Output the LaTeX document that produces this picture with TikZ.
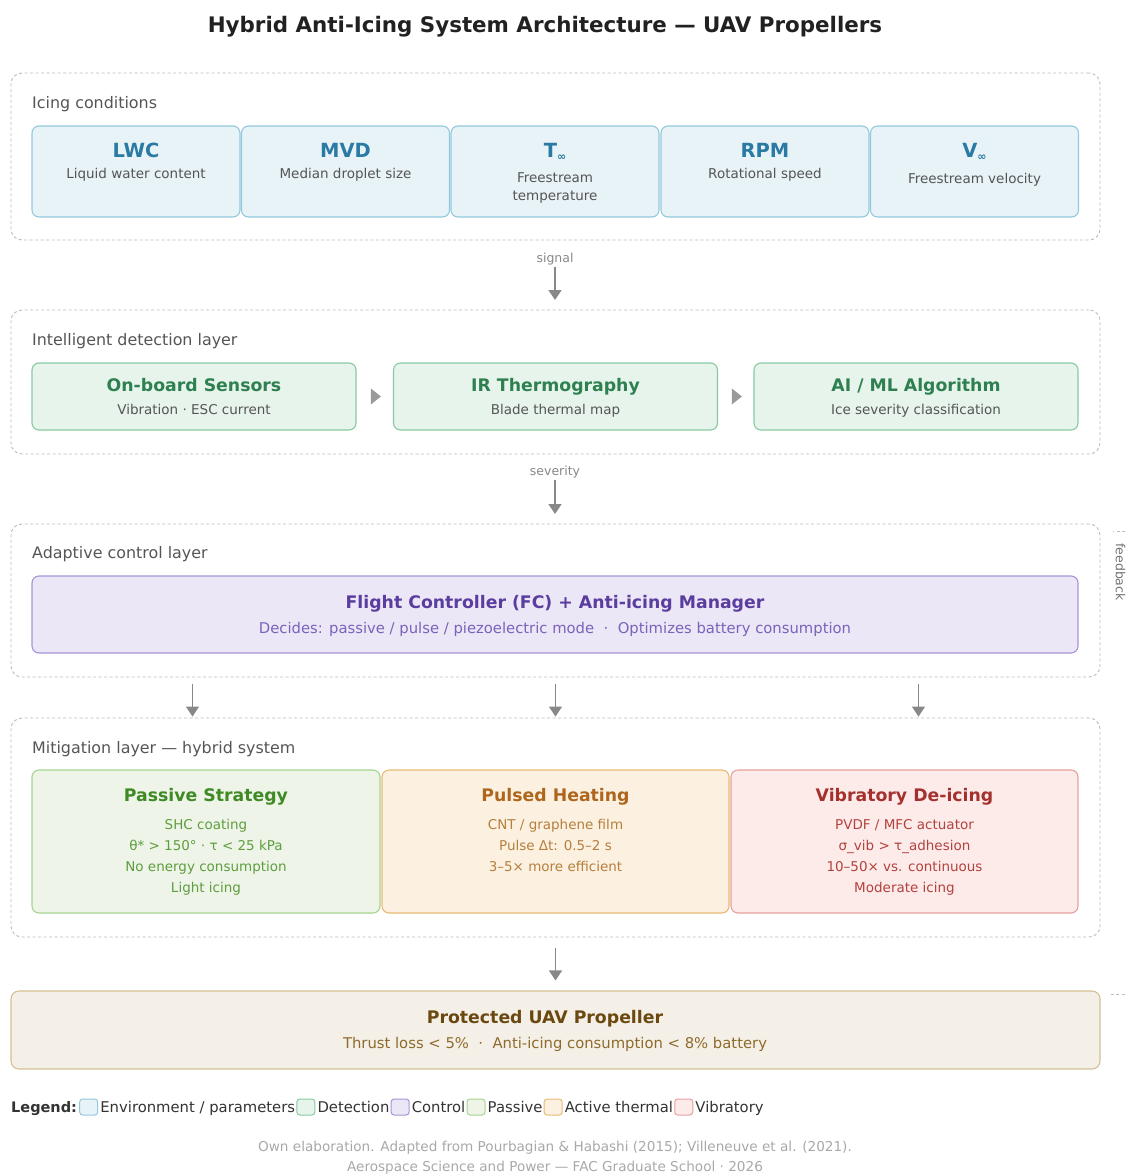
\documentclass[tikz,border=0pt]{standalone}
\usepackage{fontspec}
\setmainfont{DejaVu Sans}
\usepackage{xcolor}
\usetikzlibrary{arrows.meta,positioning,calc,shapes.geometric}

\definecolor{laygray}{HTML}{BBBBBB}
\definecolor{labgray}{HTML}{555555}
\definecolor{subgray}{HTML}{555555}
\definecolor{arrgray}{HTML}{888888}
\definecolor{footgray}{HTML}{A8A8A8}
\definecolor{legdark}{HTML}{333333}
\definecolor{envfill}{HTML}{E8F3F8}
\definecolor{envline}{HTML}{92C9DD}
\definecolor{envtxt}{HTML}{2A7AA3}
\definecolor{detfill}{HTML}{E7F4EC}
\definecolor{detline}{HTML}{86CBA0}
\definecolor{dettxt}{HTML}{2E8050}
\definecolor{ctlfill}{HTML}{ECE7F6}
\definecolor{ctlline}{HTML}{A893D6}
\definecolor{ctltxt}{HTML}{5A3D9E}
\definecolor{ctlsub}{HTML}{7B62BA}
\definecolor{pasfill}{HTML}{EEF4E8}
\definecolor{pasline}{HTML}{A6D48F}
\definecolor{pastxt}{HTML}{3F8A24}
\definecolor{passub}{HTML}{5E9E3E}
\definecolor{thfill}{HTML}{FCF1E1}
\definecolor{thline}{HTML}{E8BA74}
\definecolor{thtxt}{HTML}{AD661C}
\definecolor{thsub}{HTML}{B57F3D}
\definecolor{vibfill}{HTML}{FDEBEA}
\definecolor{vibline}{HTML}{E7A09C}
\definecolor{vibtxt}{HTML}{A4312D}
\definecolor{vibsub}{HTML}{B2423E}
\definecolor{outfill}{HTML}{F5F0E7}
\definecolor{outline}{HTML}{D5BF96}
\definecolor{outtxt}{HTML}{6A4810}
\definecolor{outsub}{HTML}{8E6B2C}

\newcommand{\infsub}{\raisebox{-0.3ex}{\fontsize{11}{11}\selectfont ∞}}

\tikzset{
  layer/.style={rectangle, draw=laygray, line width=0.9pt, dash pattern=on 3pt off 2.5pt,
                rounded corners=11pt, minimum width=1089pt},
  laylbl/.style={anchor=west, font=\fontsize{15.9}{18}\selectfont, text=labgray, inner sep=0pt,
                 text depth=0pt},
  envbox/.style={rectangle, draw=envline, fill=envfill, line width=1.1pt, rounded corners=7pt,
                 minimum width=208pt, minimum height=91pt},
  detbox/.style={rectangle, draw=detline, fill=detfill, line width=1.1pt, rounded corners=7pt,
                 minimum width=324pt, minimum height=67pt},
  mitbox/.style={rectangle, line width=1.1pt, rounded corners=7pt,
                 minimum width=347pt, minimum height=143pt},
  envttl/.style={font=\fontsize{19.5}{22}\selectfont\bfseries, text=envtxt, inner sep=0pt,
                 text depth=0pt},
  ttl/.style={font=\fontsize{17.3}{20}\selectfont\bfseries, inner sep=0pt, text depth=0pt},
  sub/.style={font=\fontsize{13.5}{18}\selectfont, text=subgray, align=center, inner sep=0pt,
              text depth=0pt},
  subwide/.style={font=\fontsize{14.8}{18}\selectfont, align=center, inner sep=0pt,
                  text depth=0pt},
  lines/.style={font=\fontsize{13.5}{21}\selectfont, align=center, inner sep=0pt},
  flow/.style={draw=arrgray, line width=1.5pt, -{Triangle[length=10pt,width=13pt]}},
  fb/.style={draw=laygray, line width=0.9pt, dash pattern=on 3pt off 2.5pt},
  lbl/.style={font=\fontsize{12.5}{14}\selectfont, text=arrgray, inner sep=0pt, text depth=0pt},
  tri/.style={isosceles triangle, isosceles triangle stretches, fill=arrgray!85, inner sep=0pt,
              minimum width=16pt, minimum height=10pt},
  swatch/.style={rectangle, rounded corners=3pt, line width=1pt, inner sep=0pt,
                 minimum width=18pt, minimum height=16pt},
  legtxt/.style={font=\fontsize{14.8}{17}\selectfont, text=legdark, inner sep=0pt,
                 text depth=0pt},
  foot/.style={font=\fontsize{13.6}{20}\selectfont, text=footgray, inner sep=0pt,
               text depth=0pt},
}

\begin{document}
\begin{tikzpicture}[x=1pt,y=-1pt]
\useasboundingbox (0,0) rectangle (1126,1174);
\node[font=\fontsize{21.4}{24}\selectfont\bfseries, text=black!87, inner sep=0pt,
      text depth=0pt] (title) at (545,24)
  {Hybrid Anti-Icing System Architecture — UAV Propellers};

% icing conditions
\node[layer, minimum height=167pt] (lay1) at (555.5,156.5) {};
\node[laylbl] (lay1l) at (32,102) {Icing conditions};
\node[envbox] (lwc) at (136,171.5) {};
\node[envbox] (mvd) at (345.5,171.5) {};
\node[envbox] (tinf) at (555,171.5) {};
\node[envbox] (rpm) at (765,171.5) {};
\node[envbox] (vinf) at (974.5,171.5) {};
\node[envttl] (lwct) at (136,150) {LWC};
\node[envttl] (mvdt) at (345.5,150) {MVD};
\node[envttl] (tinft) at (555,150) {T\infsub};
\node[envttl] (rpmt) at (765,150) {RPM};
\node[envttl] (vinft) at (974.5,150) {V\infsub};
\node[sub] (lwcs) at (136,173) {Liquid water content};
\node[sub] (mvds) at (345.5,173) {Median droplet size};
\node[sub] (tinfs) at (555,187) {Freestream\\temperature};
\node[sub] (rpms) at (765,173) {Rotational speed};
\node[sub] (vinfs) at (974.5,178) {Freestream velocity};

\node[lbl] (sig) at (555,258) {signal};
\draw[flow, shorten <=4pt, shorten >=10pt] (sig.south) -- (sig.south |- 0,310);

% detection
\node[layer, minimum height=144pt] (lay2) at (555.5,382) {};
\node[laylbl] (lay2l) at (32,339) {Intelligent detection layer};
\node[detbox] (sens) at (194,396.5) {};
\node[detbox] (irt) at (555.5,396.5) {};
\node[detbox] (aiml) at (916,396.5) {};
\node[ttl, text=dettxt] (senst) at (194,385) {On-board Sensors};
\node[ttl, text=dettxt] (irtt) at (555.5,385) {IR Thermography};
\node[ttl, text=dettxt] (aimlt) at (916,385) {AI / ML Algorithm};
\node[sub] (senss) at (194,409) {Vibration · ESC current};
\node[sub] (irts) at (555.5,409) {Blade thermal map};
\node[sub] (aimls) at (916,409) {Ice severity classification};
\node[tri] (t12) at ($(sens.east)!0.5!(irt.west)$) {};
\node[tri] (t23) at ($(irt.east)!0.5!(aiml.west)$) {};

\node[lbl] (sev) at (555,471) {severity};
\draw[flow, shorten <=4pt, shorten >=10pt] (sev.south) -- (sev.south |- 0,524);

% control
\node[layer, minimum height=153pt] (lay3) at (555.5,600.5) {};
\node[laylbl] (lay3l) at (32,552) {Adaptive control layer};
\node[rectangle, draw=ctlline, fill=ctlfill, line width=1.1pt, rounded corners=7pt,
      minimum width=1046pt, minimum height=77pt] (fc) at (555,614.5) {};
\node[ttl, text=ctltxt] (fct) at (555,602) {Flight Controller (FC) + Anti-icing Manager};
\node[subwide, text=ctlsub] (fcs) at (555,628)
  {Decides: passive / pulse / piezoelectric mode \ · \ Optimizes battery consumption};

% mitigation
\node[layer, minimum height=219pt] (lay4) at (555.5,827.5) {};
\node[laylbl] (lay4l) at (32,747) {Mitigation layer — hybrid system};
\foreach \dx in {-363,0,363}
  \draw[flow, shorten <=7pt, shorten >=1pt] ($(lay3.south)+(\dx,0)$) -- ($(lay4.north)+(\dx,0)$);
\node[mitbox, draw=pasline, fill=pasfill, minimum width=348pt] (pas) at (206,841.5) {};
\node[mitbox, draw=thline, fill=thfill] (puls) at (555.5,841.5) {};
\node[mitbox, draw=vibline, fill=vibfill] (vib) at (904.5,841.5) {};
\node[ttl, text=pastxt] (past) at (206,795) {Passive Strategy};
\node[ttl, text=thtxt] (pulst) at (555.5,795) {Pulsed Heating};
\node[ttl, text=vibtxt] (vibt) at (904.5,795) {Vibratory De-icing};
\node[lines, text=passub, anchor=north] (pasl) at (206,819)
  {SHC coating\\θ* > 150° · τ < 25 kPa\\No energy consumption\\Light icing};
\node[lines, text=thsub, anchor=north] (pulsl) at (555.5,819)
  {CNT / graphene film\\Pulse Δt: 0.5–2 s\\3–5× more efficient};
\node[lines, text=vibsub, anchor=north] (vibl) at (904.5,819)
  {PVDF / MFC actuator\\σ\_vib > τ\_adhesion\\10–50× vs. continuous\\Moderate icing};

% output
\node[rectangle, draw=outline, fill=outfill, line width=1.1pt, rounded corners=8pt,
      minimum width=1089pt, minimum height=78pt] (prop) at (555.5,1030) {};
\node[ttl, text=outtxt] (propt) at (545,1017) {Protected UAV Propeller};
\node[subwide, text=outsub] (props) at (555,1043)
  {Thrust loss < 5\% \ · \ Anti-icing consumption < 8\% battery};
\draw[flow, shorten <=11pt, shorten >=10pt] (lay4.south) -- (prop.north);

% feedback
\draw[fb] ($(prop.north east)+(10,4)$) -- ++(40,0) |- ($(lay3.north east)+(13,8)$);
\node[lbl, rotate=-90, text=black!55] (fbl) at (1120.5,572) {feedback};

% legend
\node[legtxt, font=\fontsize{14.5}{17}\selectfont\bfseries, anchor=west] (leg) at (11,1107) {Legend:};
\node[swatch, draw=envline, fill=envfill, right=2pt of leg] (sw1) {};
\node[legtxt, right=2pt of sw1] (lg1) {Environment / parameters};
\node[swatch, draw=detline, fill=detfill, right=1pt of lg1] (sw2) {};
\node[legtxt, right=2pt of sw2] (lg2) {Detection};
\node[swatch, draw=ctlline, fill=ctlfill, right=1pt of lg2] (sw3) {};
\node[legtxt, right=2pt of sw3] (lg3) {Control};
\node[swatch, draw=pasline, fill=pasfill, right=1pt of lg3] (sw4) {};
\node[legtxt, right=2pt of sw4] (lg4) {Passive};
\node[swatch, draw=thline, fill=thfill, right=1pt of lg4] (sw5) {};
\node[legtxt, right=2pt of sw5] (lg5) {Active thermal};
\node[swatch, draw=vibline, fill=vibfill, right=1pt of lg5] (sw6) {};
\node[legtxt, right=2pt of sw6] (lg6) {Vibratory};

\node[foot] (src) at (555,1146) {Own elaboration. Adapted from Pourbagian \& Habashi (2015); Villeneuve et al. (2021).};
\node[foot] (inst) at (555,1166) {Aerospace Science and Power — FAC Graduate School · 2026};
\end{tikzpicture}
\end{document}
